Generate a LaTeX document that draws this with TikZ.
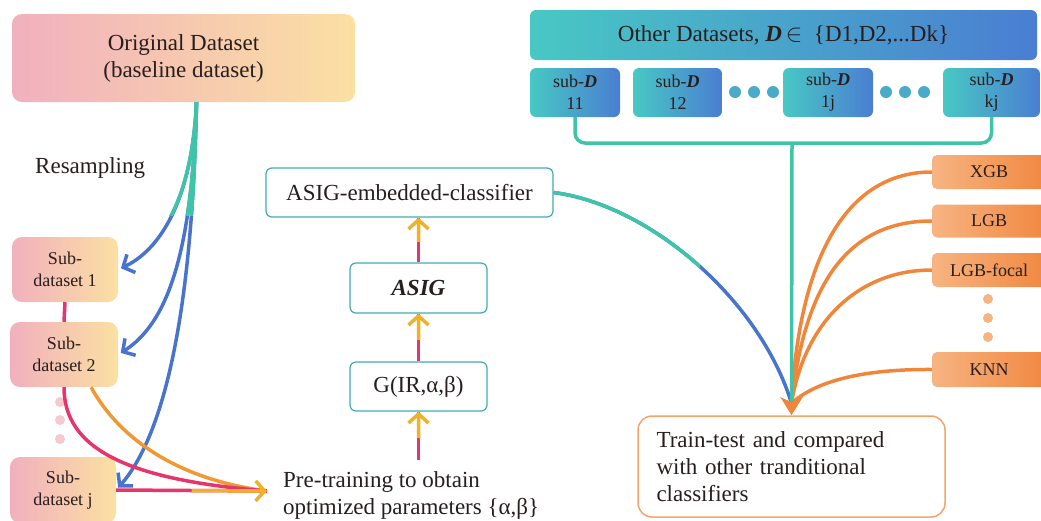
\documentclass[tikz,border=0pt]{standalone}
\usepackage{fontspec}
\setmainfont{Liberation Serif}
\usepackage{tikz}
\usetikzlibrary{arrows.meta, positioning, calc}
\definecolor{tealc}{RGB}{62,196,168}
\definecolor{bluec}{RGB}{72,116,206}
\definecolor{pinkc}{RGB}{230,52,108}
\definecolor{orangec}{RGB}{240,134,58}
\definecolor{yellowc}{RGB}{240,178,36}
\definecolor{pinkfill}{RGB}{241,176,190}
\definecolor{creamfill}{RGB}{251,224,162}
\definecolor{tealfill}{RGB}{72,200,196}
\definecolor{bluefill}{RGB}{74,126,210}
\definecolor{orangeL}{RGB}{247,180,130}
\definecolor{orangeR}{RGB}{240,136,64}
\definecolor{textc}{RGB}{40,30,30}
\tikzstyle{big} = [font=\fontsize{23}{27}\selectfont, text=textc]
\tikzstyle{small} = [font=\fontsize{18}{22}\selectfont, text=textc]
\tikzstyle{warm} = [rectangle, rounded corners=10pt, left color=pinkfill, right color=creamfill, align=center]
\tikzstyle{cool} = [rectangle, rounded corners=6pt, left color=tealfill, right color=bluefill, align=center]
\tikzstyle{plain} = [rectangle, rounded corners=6pt, draw=tealc!70!bluec, line width=1.2pt, fill=white]
\tikzstyle{clf} = [rectangle, rounded corners=5pt, left color=orangeL, right color=orangeR]
\tikzstyle{wire} = [line width=3.5pt]
\tikzstyle{barb} = [-{Straight Barb[length=9pt,width=20pt]}]
\newcommand{\gradarrow}[2]{%
  \draw[wire, pinkc] (#1) -- (#2);
  \draw[wire, yellowc, barb] ($(#1)!.45!(#2)$) -- (#2);}

\begin{document}
\begin{tikzpicture}[x=1pt, y=-1pt]
    \useasboundingbox (0,0) rectangle (1041,520);
    %%% Left column:
    \node[warm, big, minimum width=343pt, minimum height=88pt] (orig) at (183.5,58) {Original Dataset\\(baseline dataset)};
    \node[big, anchor=west, inner sep=0] (resamp) at (35,168) {Resampling};
    \node[warm, small, minimum width=106pt, minimum height=65pt] (sub1) at (65,269.5) {Sub-\\dataset 1};
    \node[warm, small, minimum width=108pt, minimum height=65pt] (sub2) at (64,354.5) {Sub-\\dataset 2};
    \node[warm, small, minimum width=106pt, minimum height=66pt] (subj) at (63,490) {Sub-\\dataset j};
    \foreach \y in {402,420,439} \fill[pinkfill!70!white] (60,\y) circle (5pt);
    \node[big, anchor=west, align=left, inner sep=0] (pretrain) at (283,495) {Pre-training to obtain\\optimized parameters \{α,β\}};
    %%% Middle column:
    \node[plain, big, minimum width=287pt, minimum height=49pt] (embed) at (409.5,192.5) {ASIG-embedded-classifier};
    \node[plain, big, minimum width=137pt, minimum height=50pt] (asig) at (418.5,288) {\textbf{\textit{ASIG}}};
    \node[plain, big, minimum width=137pt, minimum height=49pt] (gfun) at (418.5,386.5) {G(IR,α,β)};
    %%% Other datasets:
    \node[cool, big, minimum width=507pt, minimum height=50pt] (other) at (783.5,35) {Other Datasets, \textbf{\textit{D}}\,$\in$\ \ \{D1,D2,...Dk\}};
    \node[cool, small, minimum width=90pt, minimum height=49pt] (s11) at (575,92.5) {sub-\textbf{\textit{D}}\\11};
    \node[cool, small, minimum width=89pt, minimum height=49pt] (s12) at (677.5,92.5) {sub-\textbf{\textit{D}}\\12};
    \node[cool, small, minimum width=90pt, minimum height=49pt] (s1j) at (828,92.5) {sub-\textbf{\textit{D}}\\1j};
    \node[cool, small, minimum width=97pt, minimum height=49pt] (skj) at (991.5,92.5) {sub-\textbf{\textit{D}}\\kj};
    \foreach \x in {735,754,773,886,905,924} \fill[tealfill!60!bluefill] (\x,92) circle (6pt);
    %%% Classifiers:
    \node[clf, small, minimum width=114pt, minimum height=34pt] (xgb) at (989,172) {XGB};
    \node[clf, small, minimum width=114pt, minimum height=33pt] (lgb) at (989,221) {LGB};
    \node[clf, small, minimum width=114pt, minimum height=34pt] (lgbf) at (989,270) {LGB-focal};
    \node[clf, small, minimum width=114pt, minimum height=35pt] (knn) at (989,369.5) {KNN};
    \foreach \y in {299,318,337} \fill[orangeL] (988,\y) circle (5pt);
    \node[draw=orangec!75!white, line width=1.5pt, rounded corners=14pt, big, text width=270pt, align=left, inner xsep=18.5pt, minimum height=101pt] (train) at (791.5,466.5) {Train-test and compared\\with other tranditional\\classifiers};

    %%% Resampling wires:
    \coordinate (fork) at ($(orig.south)+(13,0)$);
    \foreach \ca/\cb/\tgt in {{192,200}/{160,250}/sub1, {192,260}/{165,325}/sub2, {192,330}/{160,440}/subj}
      \draw[wire, bluec, barb, shorten >=3pt] (fork) .. controls (\ca) and (\cb) .. (\tgt.east);
    \begin{scope}
      \clip (140,100) rectangle (220,215);
      \foreach \ca/\cb/\tgt in {{192,200}/{160,250}/sub1, {192,260}/{165,325}/sub2, {192,330}/{160,440}/subj}
        \draw[wire, tealc] (fork) .. controls (\ca) and (\cb) .. (\tgt.east);
    \end{scope}
    %%% Pre-training wires:
    \coordinate (ptip) at ($(pretrain.west)+(-16,-4)$);
    \draw[wire, pinkc] (sub1.south) -- (sub2.north);
    \draw[wire, orangec!60!yellowc] ($(sub2.south)!.5!(sub2.south east)$) .. controls (120,440) and (180,480) .. (ptip);
    \draw[wire, pinkc] (sub2.south) .. controls (64,450) and (130,480) .. (ptip);
    \draw[wire, pinkc] (subj.east) -- (ptip);
    \draw[wire, yellowc, barb] ($(subj.east)!.5!(ptip)$) -- (ptip);
    %%% Upward arrows:
    \coordinate (gbot) at ($(gfun.south |- pretrain.north)+(0,-11)$);
    \coordinate (etop) at (embed.south -| asig.north);
    \gradarrow{gbot}{gfun.south}
    \gradarrow{gfun.north}{asig.south}
    \gradarrow{asig.north}{etop}
    %%% Into the comparison:
    \coordinate (brk) at (792,143);
    \coordinate (hub) at ($(train.north)+(0,-12)$);
    \draw[wire, bluec] (embed.east) .. controls (650,205) and (760,300) .. (hub);
    \begin{scope}
      \clip (550,150) rectangle (700,300);
      \draw[wire, tealc] (embed.east) .. controls (650,205) and (760,300) .. (hub);
    \end{scope}
    \draw[wire, tealc, rounded corners=10pt] (s11.south) |- (brk) -| (skj.south);
    \foreach \n/\ca/\cb in {xgb/{850,172}/{800,250}, lgb/{850,221}/{805,280}, lgbf/{860,270}/{805,320}, knn/{860,369}/{815,382}}
      \draw[wire, orangec] (\n.west) .. controls (\ca) and (\cb) .. (hub);
    \draw[wire, tealc, -{Stealth[length=18pt,width=22pt,inset=5pt,color=orangec]}] (brk) -- (train.north);
\end{tikzpicture}
\end{document}
